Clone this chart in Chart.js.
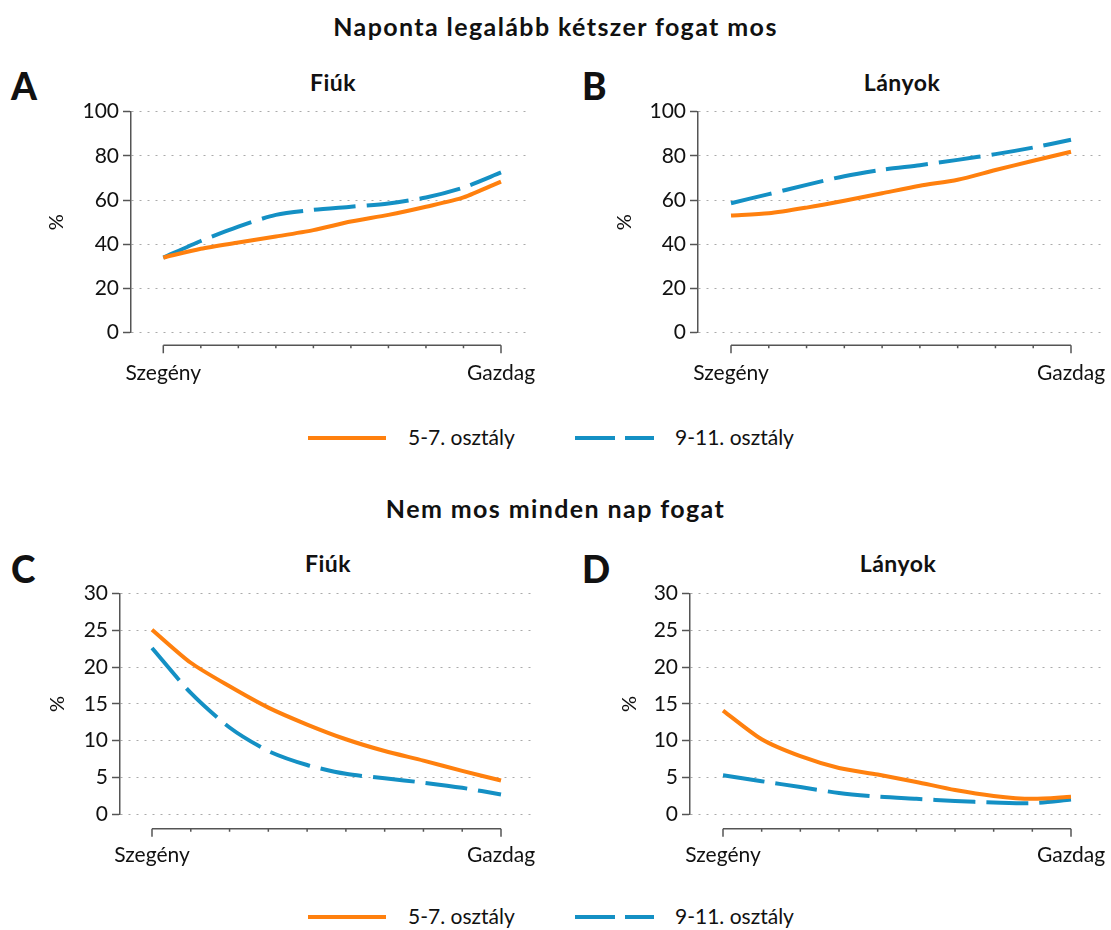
<!DOCTYPE html>
<html lang="hu">
<head>
<meta charset="utf-8">
<title>Fogmosás</title>
<script src="https://cdn.jsdelivr.net/npm/chart.js@4.4.0/dist/chart.umd.min.js"></script>
<style>
  body { margin: 0; width: 1111px; height: 930px; overflow: hidden; background: #fff; position: relative;
         font-family: Lato, "Open Sans", sans-serif; color: #111; }
  .abs { position: absolute; }
  .title { left: 0; width: 1111px; text-align: center; font-weight: 700; font-size: 25px; letter-spacing: 1.4px; }
  .letter { font-weight: 900; font-size: 37px; line-height: 37px; }
  .sub { font-weight: 700; font-size: 23px; letter-spacing: 0.5px; transform: translateX(-50%); white-space: nowrap; }
  .leg { font-size: 21px; white-space: nowrap; }
  canvas { position: absolute; }
</style>
</head>
<body>
<div class="abs title" style="top:11px">Naponta legalább kétszer fogat mos</div>
<div class="abs title" style="top:493px">Nem mos minden nap fogat</div>

<div class="abs letter" style="left:11px;top:67px">A</div>
<div class="abs letter" style="left:582px;top:67px">B</div>
<div class="abs letter" style="left:11px;top:550px">C</div>
<div class="abs letter" style="left:582px;top:550px">D</div>

<div class="abs sub" style="left:333px;top:68px">Fiúk</div>
<div class="abs sub" style="left:902px;top:68px">Lányok</div>
<div class="abs sub" style="left:328px;top:549px">Fiúk</div>
<div class="abs sub" style="left:898px;top:549px">Lányok</div>

<canvas id="chartA" width="556" height="310" style="left:0;top:90px"></canvas>
<canvas id="chartB" width="555" height="310" style="left:556px;top:90px"></canvas>
<canvas id="chartC" width="556" height="300" style="left:0;top:575px"></canvas>
<canvas id="chartD" width="555" height="300" style="left:556px;top:575px"></canvas>

<div id="legend1"></div>
<div id="legend2"></div>

<script>
// categories along the x axis (income groups, poor -> rich)
const categories = ['Szegény', '', '', '', '', '', '', '', '', 'Gazdag'];
const seriesNames = ['5-7. osztály', '9-11. osztály'];
const seriesColors = ['#ff800e', '#1490c4'];

const yTicksTop = [0, 20, 40, 60, 80, 100];
const yTicksBottom = [0, 5, 10, 15, 20, 25, 30];

// Naponta legalább kétszer fogat mos
const boysTwiceLower = [34, 38, 40.8, 43.5, 46.4, 50.3, 53.3, 57, 61.2, 68.4];
const boysTwiceUpper = [34, 41.5, 48, 53.3, 55.6, 57, 58.5, 61.2, 65.7, 72.5];
const girlsTwiceLower = [53, 54, 56.6, 59.7, 63.1, 66.5, 69.2, 73.6, 77.8, 81.9];
const girlsTwiceUpper = [58.6, 62.7, 66.9, 70.8, 73.7, 75.8, 78.2, 80.8, 83.8, 87.3];

// Nem mos minden nap fogat
const boysNotDailyLower = [25.1, 20.6, 17.4, 14.5, 12.2, 10.2, 8.6, 7.3, 5.9, 4.6];
const boysNotDailyUpper = [22.6, 16.5, 11.8, 8.6, 6.7, 5.5, 4.9, 4.3, 3.6, 2.7];
const girlsNotDailyLower = [14.1, 10.2, 7.9, 6.3, 5.4, 4.4, 3.3, 2.5, 2.1, 2.4];
const girlsNotDailyUpper = [5.3, 4.5, 3.7, 2.9, 2.4, 2.1, 1.8, 1.6, 1.5, 2.0];

const FONT = 'Lato, "Open Sans", sans-serif';
const AXIS = '#555';

// x axis line between first and last category, plus the rotated "%" label
const axisPlugin = {
    id: 'axisLine',
    afterDraw(chart, args, opts) {
        const { ctx, chartArea, scales } = chart;
        const x = scales.x;
        const last = categories.length - 1;
        const yy = chartArea.bottom + opts.gap;
        ctx.save();
        ctx.strokeStyle = AXIS;
        ctx.lineWidth = 1.5;
        ctx.beginPath();
        ctx.moveTo(x.getPixelForValue(0), yy);
        ctx.lineTo(x.getPixelForValue(last), yy);
        categories.forEach((c, i) => {
            const px = x.getPixelForValue(i);
            const len = (i === 0 || i === last) ? 8 : 3;
            ctx.moveTo(px, yy);
            ctx.lineTo(px, yy + len);
        });
        ctx.stroke();

        ctx.translate(opts.pctX, (chartArea.top + chartArea.bottom) / 2);
        ctx.rotate(-Math.PI / 2);
        ctx.font = '20px ' + FONT;
        ctx.fillStyle = '#111';
        ctx.textAlign = 'center';
        ctx.textBaseline = 'middle';
        ctx.fillText('%', 0, 0);
        ctx.restore();
    }
};

function makeChart(id, panel, lower, upper, yTicks) {
    const canvas = document.getElementById(id);
    const w = canvas.width, h = canvas.height;
    const pts = arr => arr.map((v, i) => ({ x: i, y: v }));
    const step = (panel.lastTick - panel.firstTick) / (categories.length - 1);

    return new Chart(canvas.getContext('2d'), {
        type: 'line',
        data: {
            datasets: [{
                label: seriesNames[0],
                data: pts(lower),
                borderColor: seriesColors[0],
                borderWidth: 4,
                pointRadius: 0,
                tension: 0.25,
                fill: false
            }, {
                label: seriesNames[1],
                data: pts(upper),
                borderColor: seriesColors[1],
                borderWidth: 4,
                borderDash: [42, 11],
                pointRadius: 0,
                tension: 0.25,
                fill: false
            }]
        },
        options: {
            responsive: false,
            animation: false,
            layout: {
                autoPadding: false,
                padding: { top: panel.top - panel.canvasTop, right: panel.canvasLeft + w - panel.right, left: 0, bottom: 0 }
            },
            plugins: {
                legend: { display: false },
                tooltip: { enabled: false },
                axisLine: { gap: panel.gap, pctX: panel.pctX - panel.canvasLeft }
            },
            scales: {
                x: {
                    type: 'linear',
                    min: -(panel.firstTick - panel.left) / step,
                    max: (categories.length - 1) + (panel.right - panel.lastTick) / step,
                    afterFit: s => {
                        s.height = h - (panel.bottom - panel.canvasTop);
                        s.paddingLeft = 0;
                        s.paddingRight = 0;
                    },
                    afterBuildTicks: s => { s.ticks = categories.map((c, i) => ({ value: i })); },
                    grid: { display: false },
                    border: { display: false },
                    ticks: {
                        autoSkip: false,
                        maxRotation: 0,
                        padding: 20,
                        color: '#111',
                        font: { family: FONT, size: 21 },
                        callback: v => categories[v] || ''
                    }
                },
                y: {
                    min: yTicks[0],
                    max: yTicks[yTicks.length - 1],
                    afterFit: s => {
                        s.width = panel.left - panel.canvasLeft;
                        s.paddingTop = 0;
                        s.paddingBottom = 0;
                    },
                    afterBuildTicks: s => { s.ticks = yTicks.map(v => ({ value: v })); },
                    grid: {
                        color: '#aaa',
                        lineWidth: 1,
                        tickLength: 8,
                        tickColor: AXIS,
                        tickWidth: 1.5
                    },
                    border: { display: true, color: AXIS, width: 1.5, dash: [2, 6] },
                    ticks: {
                        padding: 4,
                        color: '#111',
                        font: { family: FONT, size: 21 }
                    }
                }
            }
        },
        plugins: [axisPlugin]
    });
}

const panels = {
    A: { canvasLeft: 0,   canvasTop: 90,  left: 131, right: 528,  top: 111.7, bottom: 332.7, firstTick: 163.3, lastTick: 501,  gap: 12.5, pctX: 57 },
    B: { canvasLeft: 556, canvasTop: 90,  left: 698, right: 1102, top: 111.7, bottom: 332.7, firstTick: 731,   lastTick: 1071, gap: 12.5, pctX: 625 },
    C: { canvasLeft: 0,   canvasTop: 575, left: 120, right: 532,  top: 593.6, bottom: 814.3, firstTick: 152,   lastTick: 501,  gap: 14.5, pctX: 58 },
    D: { canvasLeft: 556, canvasTop: 575, left: 690, right: 1102, top: 593.6, bottom: 814.3, firstTick: 723,   lastTick: 1071, gap: 14.5, pctX: 630 }
};

makeChart('chartA', panels.A, boysTwiceLower, boysTwiceUpper, yTicksTop);
makeChart('chartB', panels.B, girlsTwiceLower, girlsTwiceUpper, yTicksTop);
makeChart('chartC', panels.C, boysNotDailyLower, boysNotDailyUpper, yTicksBottom);
makeChart('chartD', panels.D, girlsNotDailyLower, girlsNotDailyUpper, yTicksBottom);

// shared legend rows under each pair of panels
function buildLegend(id, centerY) {
    const el = document.getElementById(id);
    const items = [
        { x1: 308, x2: 386, textX: 408, dash: '' },
        { x1: 575, x2: 654, textX: 675, dash: '40 10' }
    ];
    let html = '<svg class="abs" style="left:0;top:' + (centerY - 5) + 'px" width="1111" height="10">';
    items.forEach((it, i) => {
        html += '<line x1="' + it.x1 + '" y1="5" x2="' + it.x2 + '" y2="5" stroke="' + seriesColors[i] +
            '" stroke-width="4"' + (it.dash ? ' stroke-dasharray="' + it.dash + '"' : '') + '/>';
    });
    html += '</svg>';
    items.forEach((it, i) => {
        html += '<div class="abs leg" style="left:' + it.textX + 'px;top:' + (centerY - 14) + 'px">' + seriesNames[i] + '</div>';
    });
    el.innerHTML = html;
}
buildLegend('legend1', 438);
buildLegend('legend2', 917);
</script>
</body>
</html>
